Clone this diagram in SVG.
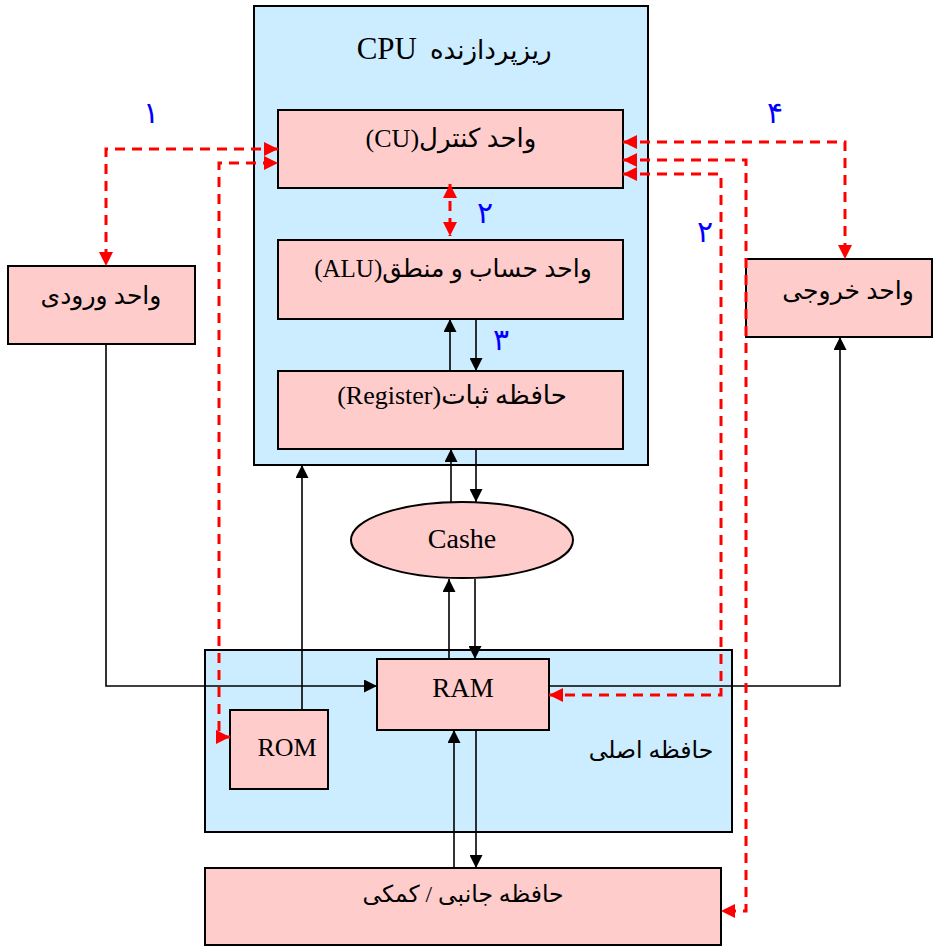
<svg xmlns="http://www.w3.org/2000/svg" width="933" height="947" viewBox="0 0 933 947">
  <style>
    .blue { fill: #CCECFF; stroke: #000; stroke-width: 2; }
    .pink { fill: #FFCCCC; stroke: #000; stroke-width: 2; }
    .lbl { font-family: "Liberation Serif", "DejaVu Sans", serif; fill: #000; }
    .num { font-family: "DejaVu Sans", sans-serif; fill: #0000FF; font-size: 30px; text-anchor: middle; }
    .wire { fill: none; stroke: #000; stroke-width: 1.6; }
    .dash { fill: none; stroke: #FF0000; stroke-width: 3; stroke-dasharray: 10 7; }
  </style>
  <defs>
    <marker id="ah" markerUnits="userSpaceOnUse" markerWidth="13" markerHeight="13" refX="13" refY="6.5" orient="auto-start-reverse">
      <path d="M0,0 L13,6.5 L0,13 z" fill="#000"/>
    </marker>
    <marker id="rh" markerUnits="userSpaceOnUse" markerWidth="14" markerHeight="14" refX="14" refY="7" orient="auto-start-reverse">
      <path d="M0,0 L14,7 L0,14 z" fill="#FF0000"/>
    </marker>
  </defs>

  <!-- processor -->
  <g id="cpu">
    <rect class="blue" x="254" y="6" width="394" height="459"/>
    <text class="lbl" x="417" y="59" font-size="31" text-anchor="end">CPU</text>
    <text class="lbl" x="430" y="59" font-size="26" text-anchor="start">ریزپردازنده</text>
  </g>
  <g id="cu">
    <rect class="pink" x="278" y="110" width="345" height="78"/>
    <text class="lbl" x="451" y="147" font-size="26" text-anchor="middle" direction="rtl">واحد کنترل(CU)</text>
  </g>
  <g id="alu">
    <rect class="pink" x="278" y="240" width="345" height="79"/>
    <text class="lbl" x="453" y="277" font-size="25" text-anchor="middle" direction="rtl">واحد حساب و منطق(ALU)</text>
  </g>
  <g id="register">
    <rect class="pink" x="278" y="371" width="345" height="78"/>
    <text class="lbl" x="452" y="404" font-size="26" text-anchor="middle" direction="rtl">حافظه ثبات(Register)</text>
  </g>

  <!-- input / output -->
  <g id="input">
    <rect class="pink" x="8" y="266" width="187" height="78"/>
    <text class="lbl" x="101" y="304" font-size="25" text-anchor="middle" direction="rtl">واحد ورودی</text>
  </g>
  <g id="output">
    <rect class="pink" x="746" y="259" width="186" height="78"/>
    <text class="lbl" x="848" y="299" font-size="25" text-anchor="middle" direction="rtl">واحد خروجی</text>
  </g>

  <!-- cache -->
  <g id="cache">
    <ellipse class="pink" cx="462" cy="540" rx="111" ry="38"/>
    <text class="lbl" x="462" y="548" font-size="28" text-anchor="middle">Cashe</text>
  </g>

  <!-- main memory -->
  <g id="main-memory">
    <rect class="blue" x="205" y="650" width="527" height="182"/>
    <text class="lbl" x="651" y="758" font-size="23.5" text-anchor="middle" direction="rtl">حافظه اصلی</text>
  </g>
  <g id="ram">
    <rect class="pink" x="377" y="659" width="172" height="71"/>
    <text class="lbl" x="463" y="697" font-size="27" text-anchor="middle">RAM</text>
  </g>
  <g id="rom">
    <rect class="pink" x="230" y="710" width="98" height="79"/>
    <text class="lbl" x="287" y="756" font-size="26" text-anchor="middle">ROM</text>
  </g>

  <!-- secondary storage -->
  <g id="storage">
    <rect class="pink" x="205" y="868" width="516" height="77"/>
    <text class="lbl" x="463" y="902" font-size="23.5" text-anchor="middle" direction="rtl">حافظه جانبی / کمکی</text>
  </g>

  <!-- connectors -->
  <g id="connectors">
    <line class="wire" x1="450" y1="371" x2="450" y2="319" marker-end="url(#ah)"/>
    <line class="wire" x1="476" y1="319" x2="476" y2="371" marker-end="url(#ah)"/>
    <line class="wire" x1="451" y1="502" x2="451" y2="449" marker-end="url(#ah)"/>
    <line class="wire" x1="476" y1="449" x2="476" y2="502" marker-end="url(#ah)"/>
    <line class="wire" x1="449" y1="659" x2="449" y2="579" marker-end="url(#ah)"/>
    <line class="wire" x1="475" y1="579" x2="475" y2="659" marker-end="url(#ah)"/>
    <line class="wire" x1="454" y1="868" x2="454" y2="730" marker-end="url(#ah)"/>
    <line class="wire" x1="476" y1="730" x2="476" y2="868" marker-end="url(#ah)"/>
    <line class="wire" x1="302" y1="710" x2="302" y2="465" marker-end="url(#ah)"/>
    <polyline class="wire" points="106,344 106,686 377,686" marker-end="url(#ah)"/>
    <polyline class="wire" points="549,686 840,686 840,337" marker-end="url(#ah)"/>

    <path class="dash" d="M278,149 H106 V266" marker-start="url(#rh)" marker-end="url(#rh)"/>
    <path class="dash" d="M230,737 H219 V163 H278" marker-start="url(#rh)" marker-end="url(#rh)"/>
    <path class="dash" d="M450,184 V236" marker-start="url(#rh)" marker-end="url(#rh)"/>
    <path class="dash" d="M623,142 H845 V259" marker-start="url(#rh)" marker-end="url(#rh)"/>
    <path class="dash" d="M623,160 H746 V911 H721" marker-start="url(#rh)" marker-end="url(#rh)"/>
    <path class="dash" d="M623,174 H721 V695 H549" marker-start="url(#rh)" marker-end="url(#rh)"/>
  </g>

  <!-- step numbers -->
  <g id="steps">
    <text class="num" x="151" y="123">۱</text>
    <text class="num" x="485" y="223" font-size="24">۲</text>
    <text class="num" x="501" y="350">۳</text>
    <text class="num" x="705" y="242">۲</text>
    <text class="num" x="775" y="123">۴</text>
  </g>
</svg>
